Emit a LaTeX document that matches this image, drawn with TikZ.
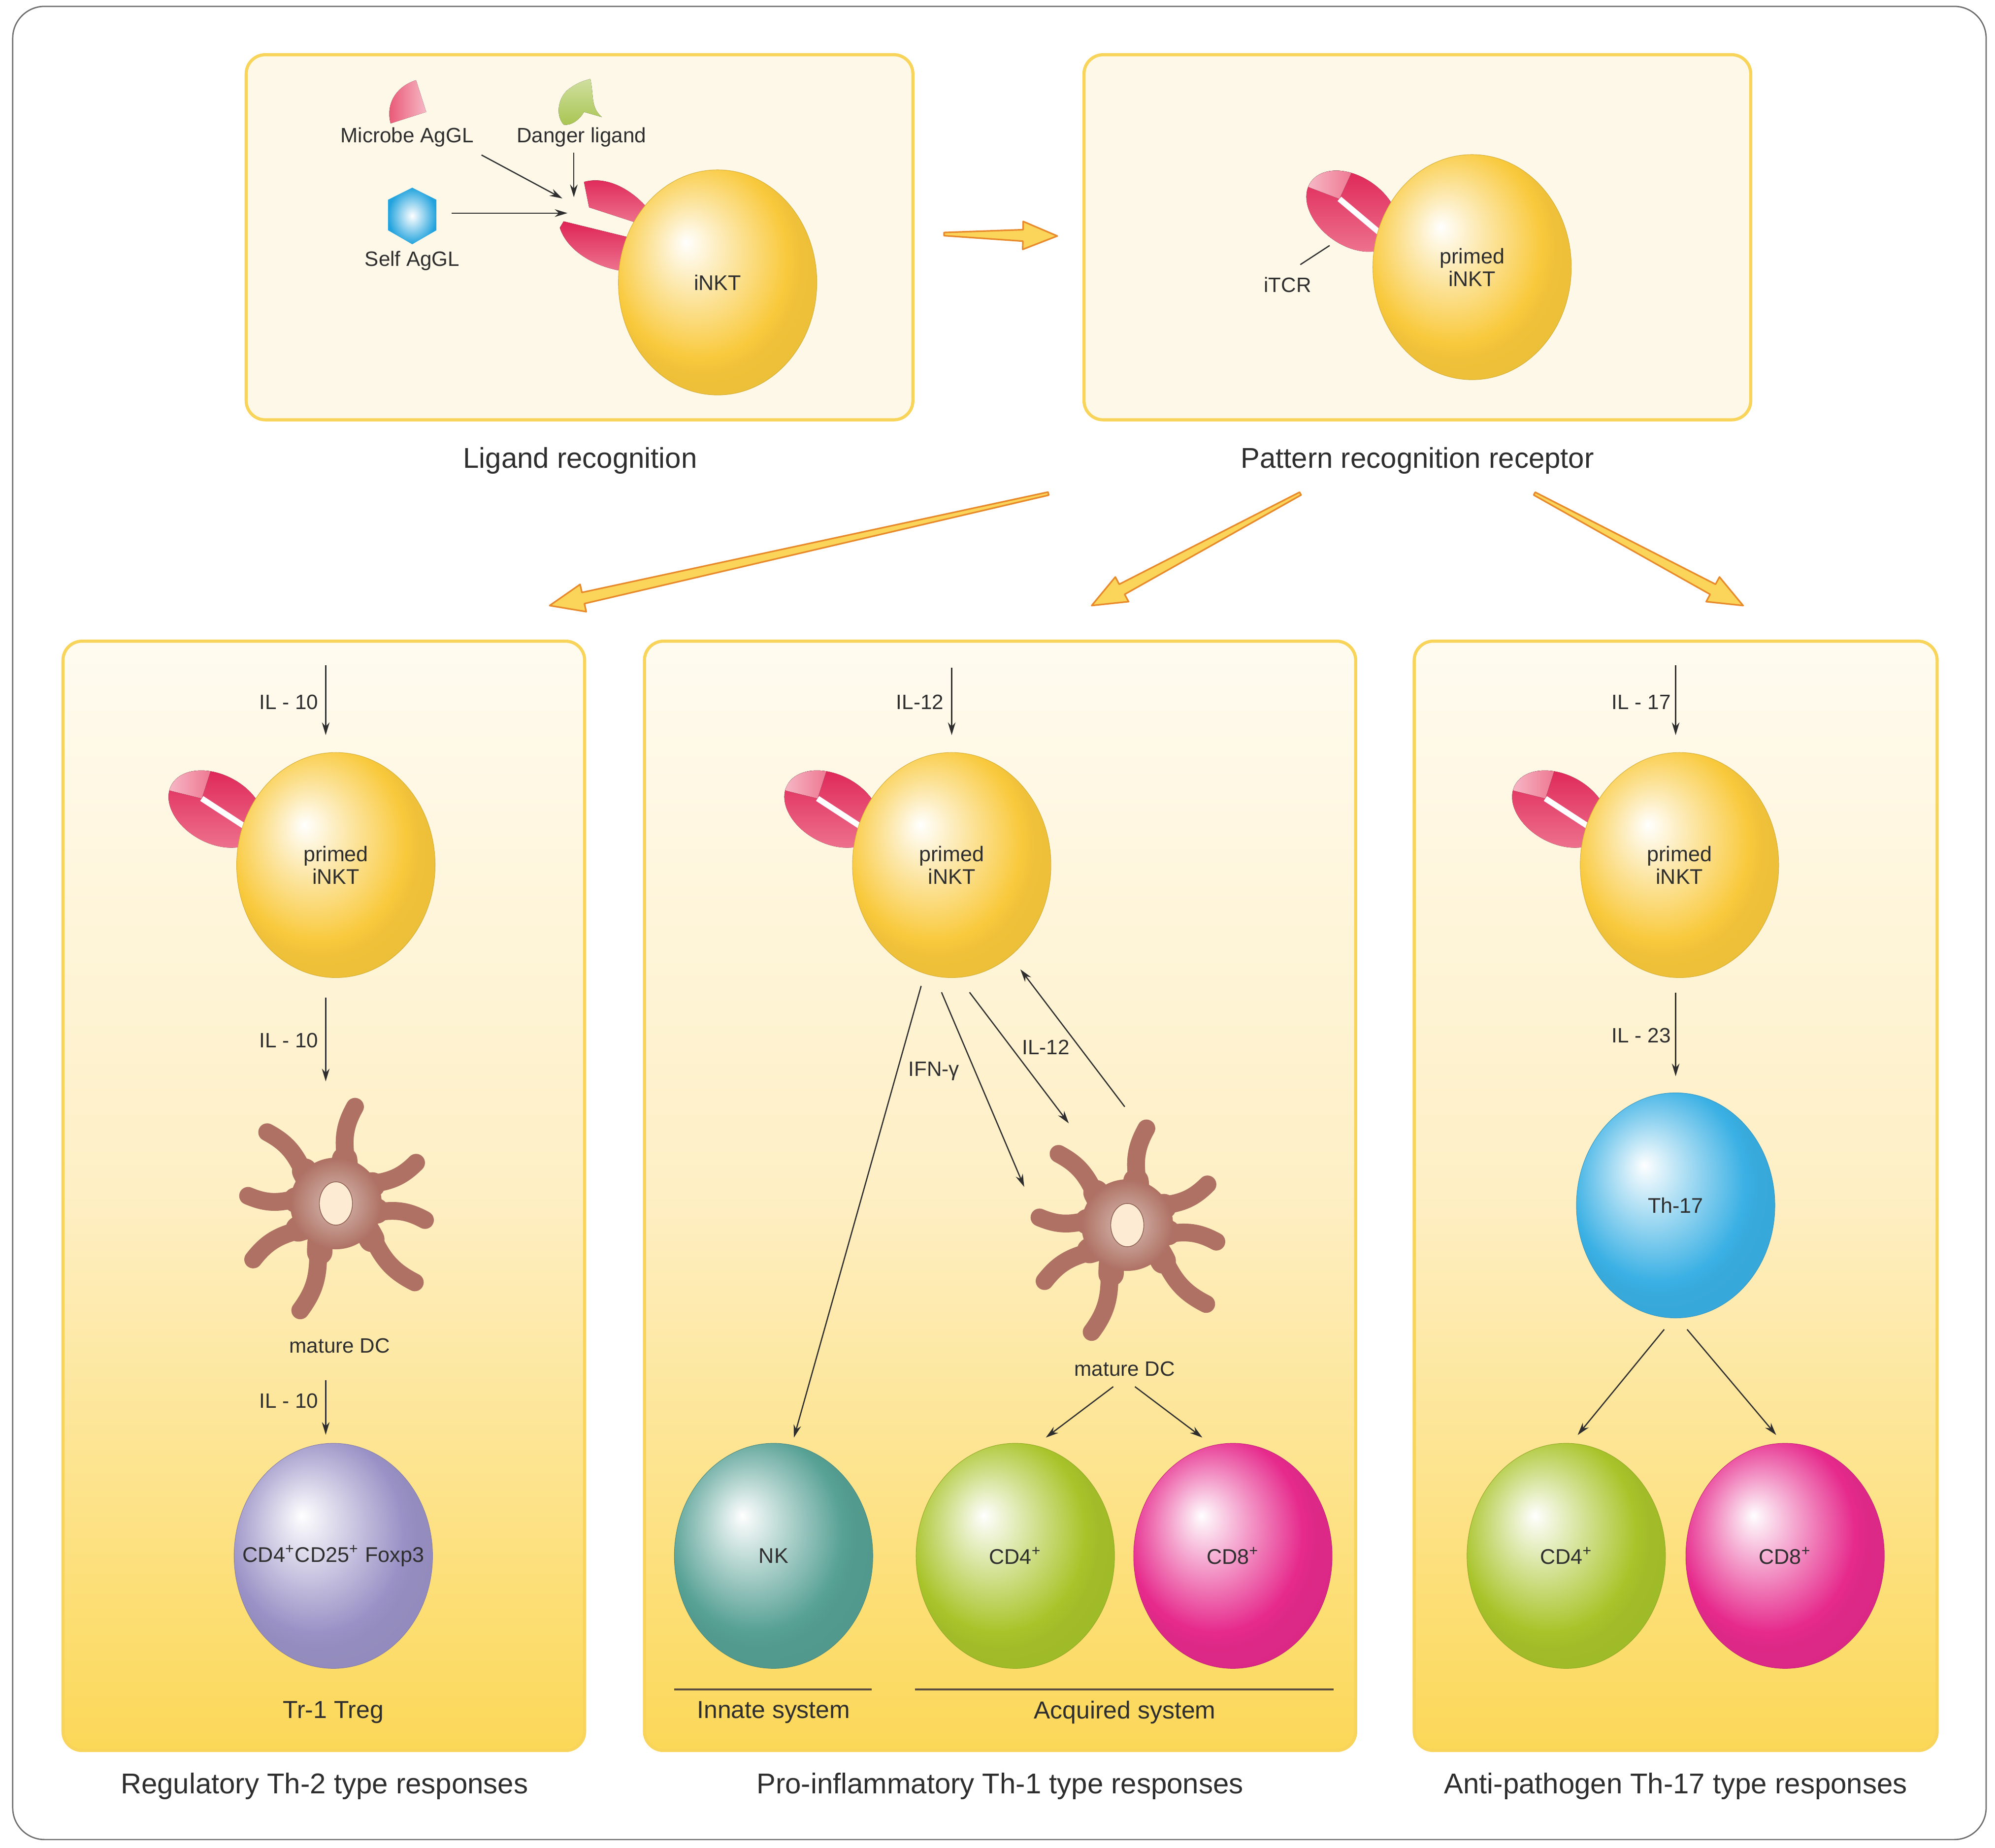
\documentclass[tikz,border=0pt]{standalone}
\usepackage{fontspec}
\setmainfont{Liberation Sans}
\usetikzlibrary{shapes.geometric,calc,arrows.meta}

\definecolor{framegray}{HTML}{707070}
\definecolor{pline}{HTML}{F8D45A}
\definecolor{pfill}{HTML}{FEF8E8}
\definecolor{ptop}{HTML}{FFFBF0}
\definecolor{pmid}{HTML}{FEEFC4}
\definecolor{pbot}{HTML}{FCD858}
\definecolor{txt}{HTML}{2E2E2E}
\definecolor{inkt}{HTML}{F9C93C}
\definecolor{nkcol}{HTML}{56A094}
\definecolor{cdfour}{HTML}{A8C42A}
\definecolor{cdeight}{HTML}{E62A8C}
\definecolor{treg}{HTML}{9A92C6}
\definecolor{thcol}{HTML}{3AB0E4}
\definecolor{dcbrown}{HTML}{AE7163}
\definecolor{dclight}{HTML}{D9BDB5}
\definecolor{dcnuc}{HTML}{FDEBD3}
\definecolor{tcrdark}{HTML}{DE2456}
\definecolor{tcrlight}{HTML}{EE7590}
\definecolor{tcrfacet}{HTML}{F7C0CC}
\definecolor{microbe}{HTML}{E8506F}
\definecolor{danger}{HTML}{A9C552}
\definecolor{selfblue}{HTML}{22A3DD}
\definecolor{arrorange}{HTML}{E8892B}
\definecolor{arrfill}{HTML}{FBD45A}
\definecolor{sysline}{HTML}{5B4D3F}
\colorlet{cellcol}{inkt}

\pgfdeclareradialshading[cellcol]{cellball}{\pgfpoint{-8bp}{9bp}}{color(0bp)=(white); color(2bp)=(cellcol!10!white); color(13bp)=(cellcol!60!white); color(22bp)=(cellcol); color(25bp)=(cellcol!96!black); color(50bp)=(cellcol!92!black)}

\newcommand{\capfont}{\fontsize{12.8}{15}\selectfont}
\newcommand{\sysfont}{\fontsize{11}{13}\selectfont}
\newcommand{\labfont}{\fontsize{9.3}{10.5}\selectfont}
\newcommand{\cellfont}{\fontsize{9.5}{10.2}\selectfont}

\tikzset{
  panel/.style={draw=pline, line width=1.4pt, rounded corners=3mm, inner sep=0pt},
  toppanel/.style={panel, fill=pfill},
  botpanel/.style={panel, top color=ptop, bottom color=pbot, middle color=pmid},
  cellcolor/.code={\colorlet{cellcol}{#1}},
  cell/.style={ellipse, inner sep=0pt, minimum width=31.2mm, minimum height=35.4mm,
    cellcolor=#1, shade, shading=cellball, draw=cellcol!85!black, line width=0.2pt,
    font=\cellfont, text=txt, align=center},
  lab/.style={font=\labfont, text=txt},
  captxt/.style={font=\capfont, text=txt},
  sys/.style={font=\sysfont, text=txt},
  sig/.style={->, line width=0.55pt, draw=txt},
  dcarm/.style={line width=2.8mm, line cap=round, draw=dcbrown},
  dcbase/.style={line width=4mm, line cap=round, draw=dcbrown},
  bigarrow/.style={draw=arrorange, fill=arrfill, line width=0.7pt, line join=round}
}

% receptor: centre, rotation
\newcommand{\tcrcap}[2]{%
  \begin{scope}[shift={(#1)}, rotate=#2]
    \fill[top color=tcrdark, bottom color=tcrlight] (0,0) ellipse [x radius=40, y radius=27];
    \begin{scope}
      \clip (0,0) ellipse [x radius=40, y radius=27];
      \fill[left color=tcrfacet, right color=tcrlight] (-14,-2) -- (-19,-30) -- (-45,-30) -- (-45,5) -- (-38,4) -- cycle;
    \end{scope}
    \draw[white, line width=0.9mm] (-14,-2) -- (42,3);
  \end{scope}}

% dendritic cell at a named coordinate
\newcommand{\dendcell}[1]{%
  \begin{scope}[shift={(#1)}]
    \foreach \tx/\ty/\bd in {15/-76/-18, 63/-32/18, 70/13/-18, 62/62/18, -28/84/-18, -65/44/18, -69/-6/-18, -54/-56/18}
      \draw[dcarm] (0,0) to[bend left=\bd] ({\tx/2},{\ty/2}) to[bend right=\bd] (\tx,\ty);
    \foreach \tx/\ty/\bd in {15/-76/-18, 63/-32/18, 70/13/-18, 62/62/18, -28/84/-18, -65/44/18, -69/-6/-18, -54/-56/18}
      \draw[dcbase] (0,0) to[bend left=\bd] ({\tx/2.2},{\ty/2.2});
    \shade[inner color=dclight, outer color=dcbrown] (0,0) circle [radius=36];
    \filldraw[fill=dcnuc, draw=dcbrown!80!black, line width=0.3pt] (0,0) ellipse [x radius=13, y radius=17];
  \end{scope}}

% tapered arrow from #1 to #2
\newcommand{\fatarrow}[2]{%
  \coordinate (fa-h) at ($(#2)!5.4mm!(#1)$);
  \draw[bigarrow] ($(#1)!0.25mm!90:(#2)$) -- ($(fa-h)!0.9mm!90:(#2)$) -- ($(fa-h)!2.2mm!90:(#2)$) -- (#2)
    -- ($(fa-h)!2.2mm!-90:(#2)$) -- ($(fa-h)!0.9mm!-90:(#2)$) -- ($(#1)!0.25mm!-90:(#2)$) -- cycle;}

\begin{document}
\begin{tikzpicture}[x=0.2mm,y=-0.2mm,>={Stealth[length=2mm,width=1.2mm]}]
\useasboundingbox (0,0) rectangle (1568,1452.6);
%Frame
\draw[framegray, line width=0.6pt, rounded corners=5mm] (10,5) rectangle (1561,1446);
%Panels
\node[toppanel, minimum width=104.8mm, minimum height=57.4mm] (ligbox) at (455.5,186.5) {};
\node[toppanel, minimum width=104.8mm, minimum height=57.4mm] (prrbox) at (1114,186.5) {};
\node[botpanel, minimum width=82mm, minimum height=174.4mm] (regbox) at (254.5,940) {};
\node[botpanel, minimum width=111.8mm, minimum height=174.4mm] (probox) at (786,940) {};
\node[botpanel, minimum width=82.2mm, minimum height=174.4mm] (antbox) at (1317,940) {};
%Captions
\node[captxt] (ligcap) at (456,362) {Ligand recognition};
\node[captxt] (prrcap) at (1114,362) {Pattern recognition receptor};
\node[captxt] (regcap) at (255,1404) {Regulatory Th-2 type responses};
\node[captxt] (procap) at (786,1404) {Pro-inflammatory Th-1 type responses};
\node[captxt] (antcap) at (1317,1404) {Anti-pathogen Th-17 type responses};
%Big arrows
\coordinate (fa1s) at (742,184); \coordinate (fa1e) at (831,185.5);
\coordinate (fa2s) at (824,388); \coordinate (fa2e) at (432,476);
\coordinate (fa3s) at (1022,388); \coordinate (fa3e) at (858,476);
\coordinate (fa4s) at (1206,388); \coordinate (fa4e) at (1370,476);
\fatarrow{fa1s}{fa1e}
\fatarrow{fa2s}{fa2e}
\fatarrow{fa3s}{fa3e}
\fatarrow{fa4s}{fa4e}
%Box 1: ligands
\fill[left color=microbe, right color=microbe!40!white] (327,63) -- (335,88) -- (307,97) .. controls (303,82) and (311,68) .. (327,63) -- cycle;
\fill[top color=danger!55!white, bottom color=danger] (464,62) .. controls (467,76) and (464,84) .. (473,92) -- (459,88) .. controls (455,95) and (448,99) .. (443,98) .. controls (436,90) and (439,76) .. (447,70) .. controls (455,64) and (461,63) .. (464,62) -- cycle;
\shade[inner color=white, outer color=selfblue] (324,147.5) -- (343,157) -- (343,181) -- (324,192) -- (305,181) -- (305,157) -- cycle;
\node[lab] (microbe) at (320,108) {Microbe AgGL};
\node[lab] (danger) at (457,108) {Danger ligand};
\node[lab] (self) at (324,205) {Self AgGL};
%Box 1: open receptor and cell
\fill[top color=tcrdark, bottom color=tcrlight] (459,143) -- (463,163) -- (506,177) -- (510,165) .. controls (497,149) and (477,138) .. (459,143) -- cycle;
\fill[top color=tcrdark, bottom color=tcrlight] (443,174) -- (500,188) -- (497,214) .. controls (470,212) and (446,198) .. (440,179) -- cycle;
\node[cell=inkt] (inkt) at (564,222) {iNKT};
\coordinate (mic-e) at (442,156);
\coordinate (dan-s) at (451,120); \coordinate (dan-e) at (451,155);
\coordinate (self-s) at (355,167.5); \coordinate (self-e) at (446,167.5);
\draw[sig] (microbe.south east) -- (mic-e);
\draw[sig] (dan-s) -- (dan-e);
\draw[sig] (self-s) -- (self-e);
%Box 2
\tcrcap{1063,166}{-35}
\node[cell=inkt] (pinkt) at (1157,210) {primed\\iNKT};
\node[lab] (itcr) at (1012,224) {iTCR};
\coordinate (itcr-s) at (1022,208); \coordinate (itcr-e) at (1045,193);
\draw[txt, line width=0.55pt] (itcr-s) -- (itcr-e);
%Box 3
\tcrcap{170,636}{-28}
\node[cell=inkt] (pinktL) at (264,680) {primed\\iNKT};
\coordinate (dcL) at (264,946);
\dendcell{dcL}
\node[lab] (dcLlab) at (267,1058) {mature DC};
\node[cell=treg] (tregL) at (262,1223) {\makebox[0pt]{CD4\textsuperscript{+}CD25\textsuperscript{+} Foxp3}};
\node[sys] (tr1) at (262,1346) {Tr-1 Treg};
\coordinate (r1s) at (256,523); \coordinate (r2e) at (256,850); \coordinate (r3s) at (256,1085);
\draw[sig, shorten >=2.7mm] (r1s) -- (r1s |- pinktL.north);
\draw[sig, shorten <=3.1mm] (r2e |- pinktL.south) -- (r2e);
\draw[sig, shorten >=1.3mm] (r3s) -- (r3s |- tregL.north);
\node[lab] (il10a) at (227,552) {IL - 10};
\node[lab] (il10b) at (227,818) {IL - 10};
\node[lab] (il10c) at (227,1101) {IL - 10};
%Box 4
\tcrcap{654,636}{-28}
\node[cell=inkt] (pinktM) at (748,680) {primed\\iNKT};
\coordinate (dcM) at (886,963);
\dendcell{dcM}
\node[lab] (dcMlab) at (884,1076) {mature DC};
\node[cell=nkcol] (nkM) at (608,1223) {NK};
\node[cell=cdfour] (cd4M) at (798,1223) {CD4\textsuperscript{+}};
\node[cell=cdeight] (cd8M) at (969,1223) {CD8\textsuperscript{+}};
\coordinate (m1s) at (748,525);
\draw[sig, shorten >=2.7mm] (m1s) -- (pinktM.north);
\node[lab] (il12a) at (723,552) {IL-12};
\coordinate (ifn-s) at (724,775); \coordinate (ifn-e) at (624,1130);
\coordinate (m2s) at (740,780); \coordinate (m2e) at (805,933);
\coordinate (m3s) at (762,780); \coordinate (m3e) at (840,883);
\coordinate (m4s) at (884,870); \coordinate (m4e) at (802,762);
\draw[sig] (ifn-s) -- (ifn-e);
\draw[sig] (m2s) -- (m2e);
\draw[sig] (m3s) -- (m3e);
\draw[sig] (m4s) -- (m4e);
\node[lab] (ifn) at (734,842) {IFN-γ};
\node[lab] (il12b) at (822,823) {IL-12};
\coordinate (m5s) at (875,1090); \coordinate (m5e) at (822,1130);
\coordinate (m6s) at (892,1090); \coordinate (m6e) at (945,1130);
\draw[sig] (m5s) -- (m5e);
\draw[sig] (m6s) -- (m6e);
\draw[sysline, line width=0.8pt] (530,1328) -- (685,1328);
\draw[sysline, line width=0.8pt] (719,1328) -- (1048,1328);
\node[sys] (innate) at (608,1346) {Innate system};
\node[sys] (acquired) at (884,1346) {Acquired system};
%Box 5
\tcrcap{1226,636}{-28}
\node[cell=inkt] (pinktR) at (1320,680) {primed\\iNKT};
\node[cell=thcol] (th17) at (1317,947.5) {Th-17};
\node[cell=cdfour] (cd4R) at (1231,1223) {CD4\textsuperscript{+}};
\node[cell=cdeight] (cd8R) at (1403,1223) {CD8\textsuperscript{+}};
\coordinate (a1s) at (1317,523); \coordinate (a2e) at (1317,846);
\draw[sig, shorten >=2.7mm] (a1s) -- (a1s |- pinktR.north);
\draw[sig, shorten <=2.3mm] (a2e |- pinktR.south) -- (a2e);
\node[lab] (il17) at (1290,552) {IL - 17};
\node[lab] (il23) at (1290,814) {IL - 23};
\coordinate (a3s) at (1308,1045); \coordinate (a3e) at (1240,1128);
\coordinate (a4s) at (1326,1045); \coordinate (a4e) at (1396,1128);
\draw[sig] (a3s) -- (a3e);
\draw[sig] (a4s) -- (a4e);
\end{tikzpicture}
\end{document}
